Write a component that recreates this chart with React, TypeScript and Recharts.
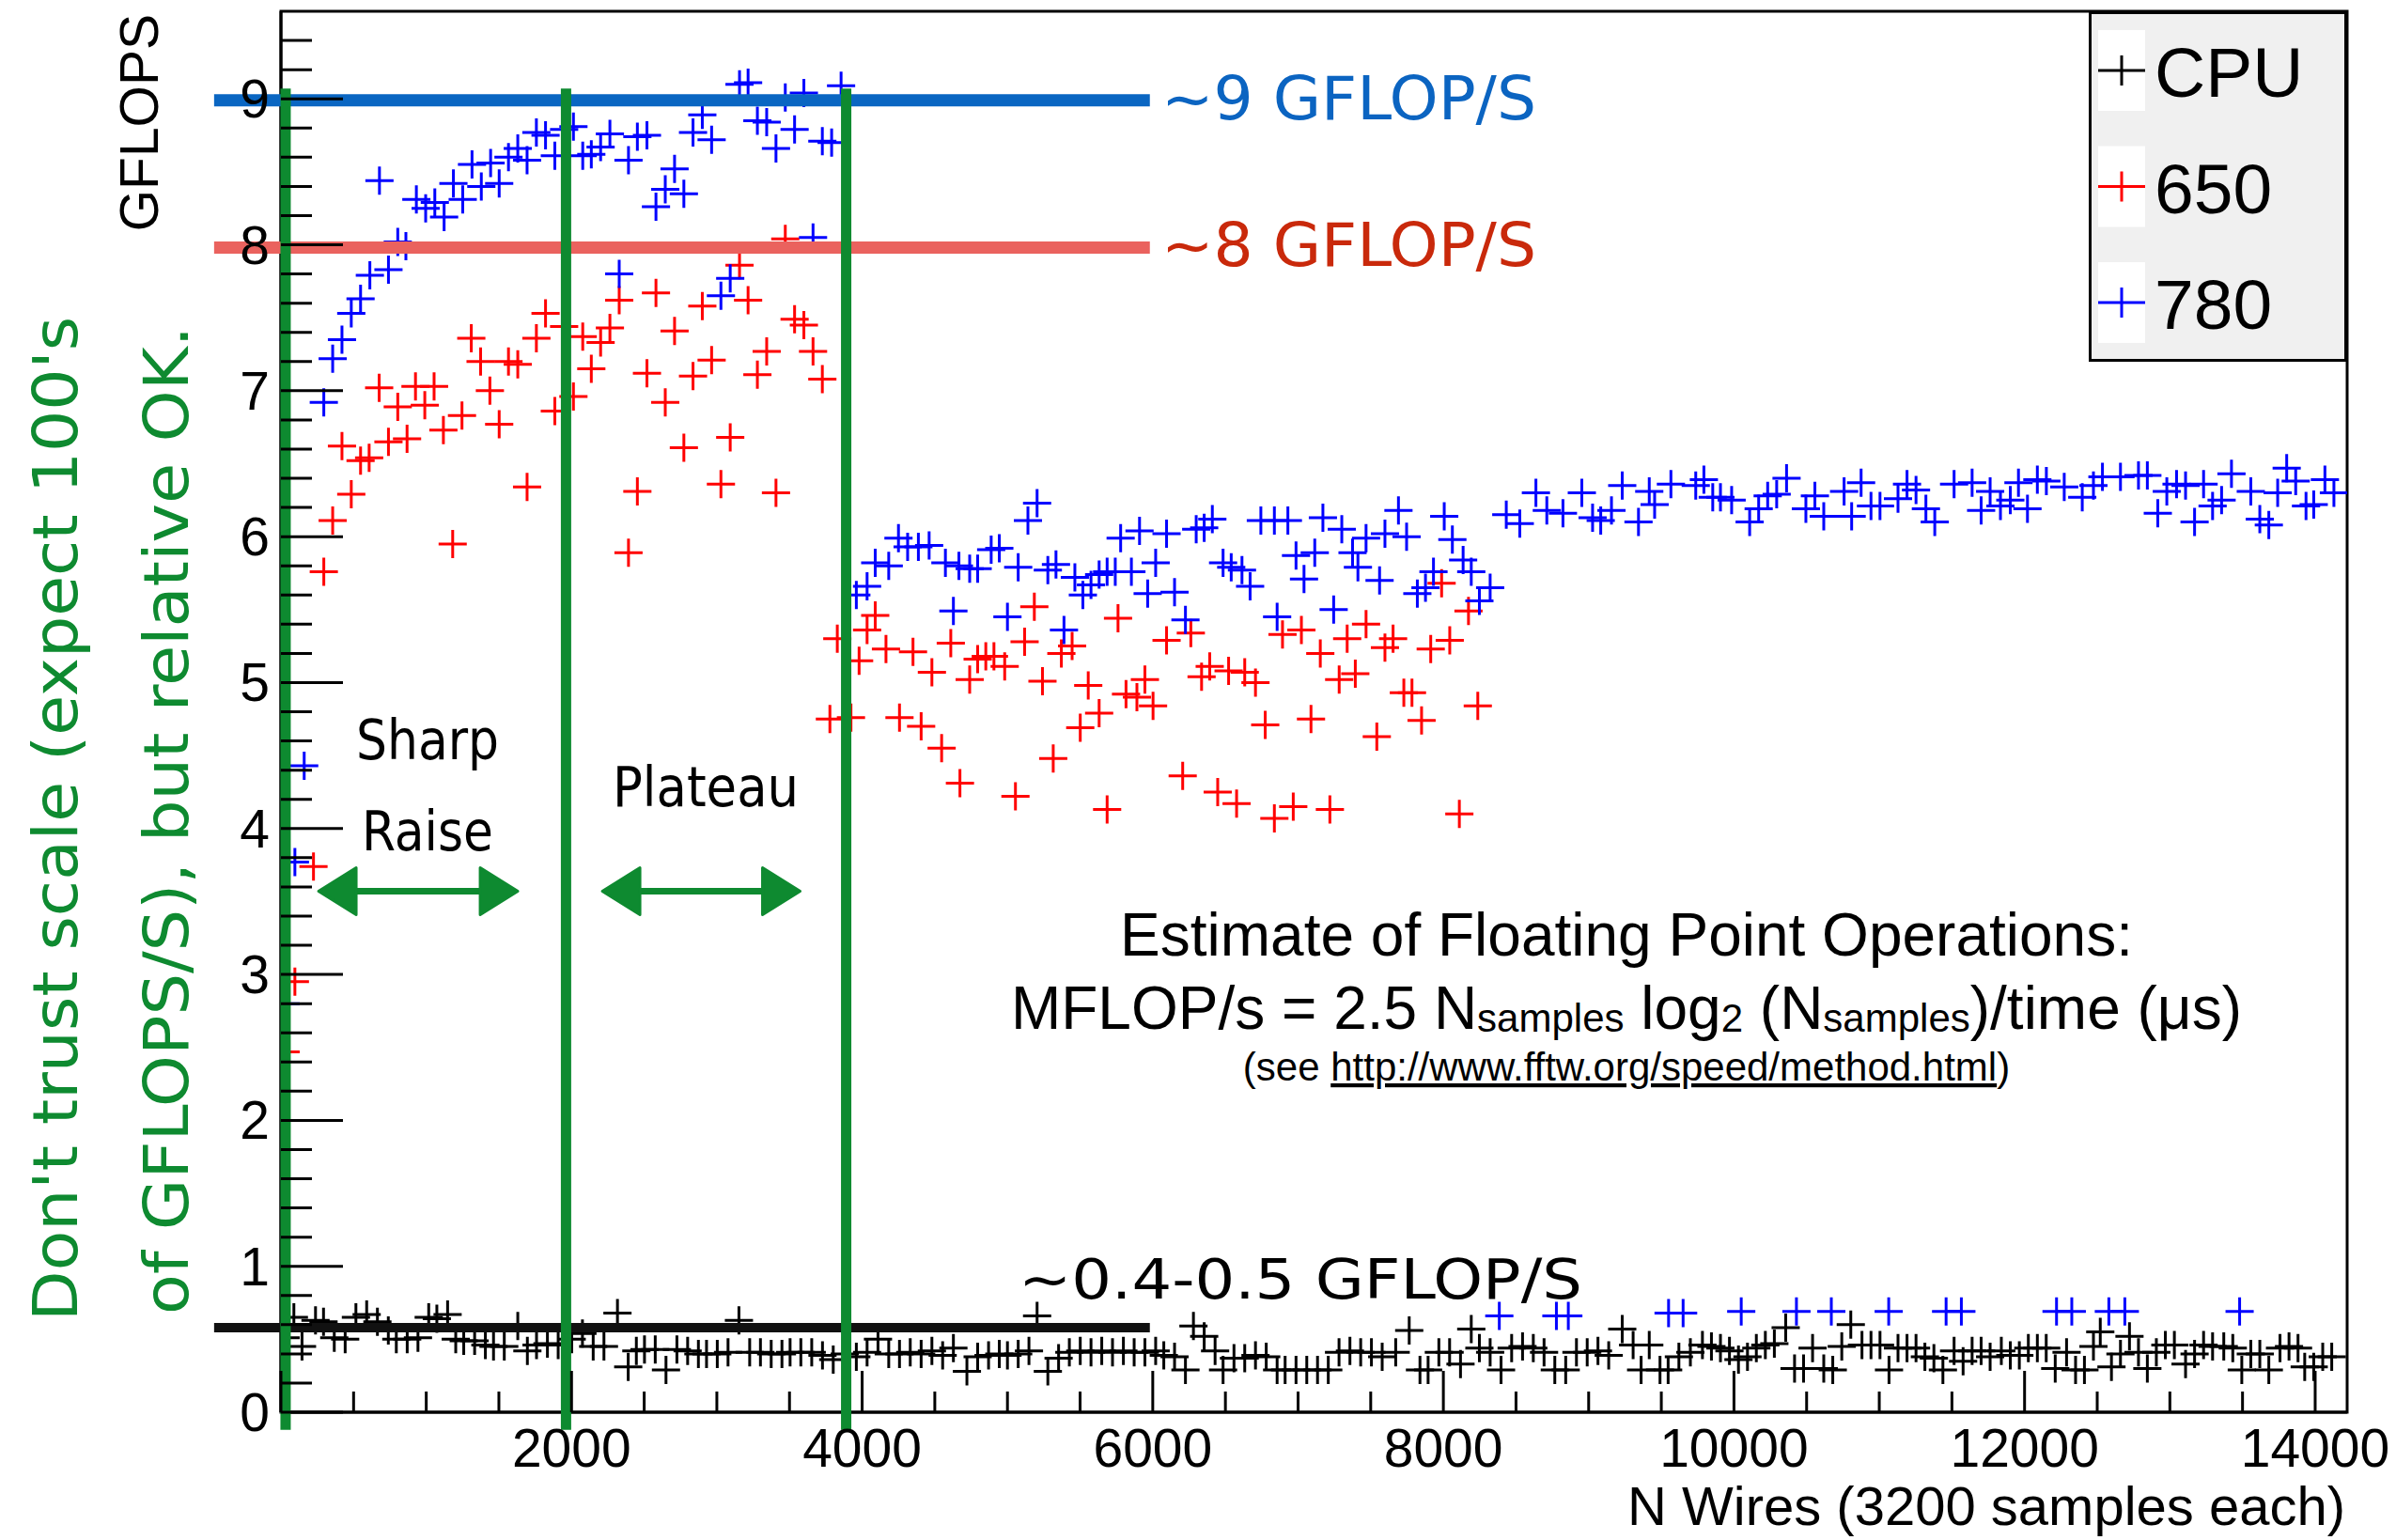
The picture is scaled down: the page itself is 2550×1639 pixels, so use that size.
import React from 'react';
import { ScatterChart, Scatter, XAxis, YAxis, ReferenceLine, ReferenceArea, Legend } from 'recharts';

const SANS = "'Liberation Sans', Arial, Helvetica, sans-serif";
const HAND = "'DejaVu Sans Condensed', 'DejaVu Sans', sans-serif";

// ---------------- data (N wires, GFLOPS) ----------------
const cpuPoints: [number, number][] = [
  [32, 0.51], [89, 0.65], [145, 0.45], [238, 0.63], [293, 0.62], [367, 0.51], [442, 0.50], [516, 0.65], [590, 0.67], [664, 0.62],
  [739, 0.56], [794, 0.50], [869, 0.50], [943, 0.51], [1017, 0.65], [1073, 0.64], [1147, 0.67], [1203, 0.50], [1258, 0.49], [1333, 0.49],
  [1407, 0.46], [1463, 0.45], [1537, 0.45], [1630, 0.59], [1696, 0.42], [1759, 0.46], [1834, 0.47], [1908, 0.46], [2001, 0.50], [2075, 0.54],
  [2149, 0.45], [2223, 0.45], [2316, 0.68], [2390, 0.31], [2446, 0.42], [2502, 0.43], [2576, 0.43], [2650, 0.29], [2725, 0.43], [2799, 0.42],
  [2873, 0.40], [2929, 0.40], [3003, 0.40], [3077, 0.41], [3152, 0.63], [3226, 0.41], [3300, 0.41], [3374, 0.40], [3448, 0.40], [3504, 0.41],
  [3578, 0.41], [3653, 0.41], [3727, 0.39], [3801, 0.36], [3880, 0.40], [3960, 0.38], [4034, 0.41], [4109, 0.50], [4183, 0.40], [4257, 0.40],
  [4331, 0.41], [4406, 0.40], [4480, 0.42], [4554, 0.39], [4628, 0.44], [4721, 0.28], [4795, 0.38], [4870, 0.39], [4944, 0.40], [5000, 0.39],
  [5074, 0.40], [5148, 0.42], [5204, 0.66], [5278, 0.28], [5352, 0.37], [5426, 0.41], [5501, 0.42], [5575, 0.41], [5649, 0.42], [5723, 0.41],
  [5798, 0.42], [5872, 0.41], [5946, 0.41], [6020, 0.42], [6076, 0.39], [6150, 0.38], [6225, 0.29], [6280, 0.59], [6354, 0.52], [6429, 0.42],
  [6484, 0.29], [6559, 0.37], [6633, 0.37], [6707, 0.39], [6781, 0.38], [6856, 0.29], [6911, 0.29], [6986, 0.29], [7060, 0.29], [7134, 0.29],
  [7208, 0.29], [7282, 0.41], [7357, 0.42], [7431, 0.41], [7505, 0.41], [7579, 0.38], [7672, 0.41], [7765, 0.56], [7839, 0.29], [7895, 0.29],
  [7969, 0.41], [8043, 0.41], [8118, 0.33], [8192, 0.57], [8248, 0.44], [8322, 0.41], [8397, 0.29], [8470, 0.44], [8545, 0.45], [8619, 0.44],
  [8693, 0.41], [8767, 0.29], [8842, 0.29], [8916, 0.41], [8990, 0.41], [9064, 0.42], [9138, 0.39], [9231, 0.57], [9306, 0.46], [9361, 0.29],
  [9417, 0.46], [9491, 0.29], [9547, 0.29], [9621, 0.38], [9700, 0.41], [9783, 0.46], [9845, 0.45], [9907, 0.44], [9969, 0.42], [10031, 0.36],
  [10093, 0.38], [10154, 0.44], [10216, 0.46], [10278, 0.47], [10356, 0.58], [10417, 0.30], [10479, 0.30], [10541, 0.44], [10618, 0.30], [10680, 0.29],
  [10742, 0.45], [10804, 0.60], [10881, 0.46], [10943, 0.46], [11005, 0.46], [11067, 0.29], [11129, 0.44], [11191, 0.44], [11253, 0.44], [11314, 0.38],
  [11376, 0.37], [11438, 0.29], [11515, 0.42], [11577, 0.35], [11639, 0.42], [11701, 0.42], [11763, 0.38], [11840, 0.42], [11902, 0.39], [11964, 0.39],
  [12026, 0.44], [12088, 0.44], [12149, 0.44], [12211, 0.30], [12289, 0.41], [12351, 0.29], [12412, 0.29], [12474, 0.45], [12521, 0.55], [12598, 0.31],
  [12660, 0.40], [12722, 0.52], [12784, 0.41], [12845, 0.30], [12907, 0.41], [12969, 0.46], [13031, 0.46], [13108, 0.33], [13170, 0.40], [13232, 0.46],
  [13294, 0.45], [13371, 0.45], [13433, 0.44], [13495, 0.29], [13557, 0.40], [13619, 0.40], [13681, 0.29], [13758, 0.44], [13820, 0.45], [13882, 0.44],
  [13928, 0.31], [13990, 0.31], [14052, 0.38], [14114, 0.38],
];

const gpu650Points: [number, number][] = [
  [32, 2.47], [96, 2.95], [224, 3.74], [295, 5.76], [356, 6.11], [420, 6.62], [484, 6.29], [548, 6.52], [607, 6.54], [676, 7.02],
  [740, 6.65], [804, 6.89], [868, 6.67], [926, 7.03], [990, 6.90], [1054, 7.03], [1118, 6.73], [1182, 5.95], [1246, 6.83], [1310, 7.36],
  [1374, 7.20], [1438, 7.00], [1502, 6.77], [1566, 7.20], [1630, 7.18], [1694, 6.34], [1758, 7.36], [1821, 7.53], [1885, 6.86], [1949, 7.44],
  [2013, 6.96], [2077, 7.37], [2136, 7.15], [2200, 7.33], [2264, 7.43], [2328, 7.62], [2392, 5.89], [2453, 6.31], [2519, 7.12], [2581, 7.67],
  [2645, 6.92], [2709, 7.41], [2773, 6.61], [2836, 7.10], [2900, 7.58], [2964, 7.21], [3028, 6.36], [3092, 6.68], [3156, 7.86], [3215, 7.62],
  [3279, 7.11], [3343, 7.27], [3407, 6.30], [3471, 8.04], [3535, 7.49], [3599, 7.45], [3662, 7.27], [3726, 7.08], [3778, 4.75], [3829, 5.30],
  [3923, 4.76], [3979, 5.15], [4034, 5.36], [4090, 5.46], [4164, 5.23], [4257, 4.76], [4350, 5.21], [4406, 4.70], [4480, 5.07], [4547, 4.55],
  [4610, 5.27], [4673, 4.31], [4740, 5.02], [4795, 5.16], [4851, 5.18], [4907, 5.18], [4981, 5.11], [5055, 4.22], [5118, 5.28], [5185, 5.52],
  [5241, 5.01], [5315, 4.48], [5371, 5.20], [5445, 5.25], [5501, 4.69], [5556, 4.98], [5631, 4.79], [5686, 4.13], [5761, 5.44], [5816, 4.92],
  [5891, 4.90], [5946, 5.02], [6002, 4.84], [6095, 5.29], [6206, 4.36], [6262, 5.34], [6336, 5.04], [6392, 5.11], [6447, 4.25], [6522, 5.08],
  [6577, 4.17], [6633, 5.07], [6707, 5.00], [6774, 4.71], [6837, 4.07], [6893, 5.33], [6967, 4.15], [7023, 5.36], [7089, 4.75], [7153, 5.20],
  [7219, 4.13], [7283, 5.02], [7338, 5.30], [7394, 5.06], [7468, 5.40], [7542, 4.63], [7598, 5.24], [7654, 5.30], [7728, 4.93], [7784, 4.93],
  [7850, 4.74], [7913, 5.23], [7988, 5.68], [8044, 5.29], [8110, 4.10], [8173, 5.49], [8237, 4.84],
];

const gpu780Points: [number, number][] = [
  [32, 2.80], [96, 3.77], [160, 4.43], [295, 6.92], [356, 7.22], [420, 7.35], [484, 7.53], [548, 7.63], [612, 7.79], [678, 8.44],
  [740, 7.83], [804, 8.02], [860, 7.99], [932, 8.31], [996, 8.25], [1059, 8.29], [1123, 8.19], [1187, 8.42], [1251, 8.31], [1315, 8.55],
  [1379, 8.40], [1443, 8.56], [1502, 8.42], [1566, 8.60], [1630, 8.66], [1694, 8.58], [1758, 8.77], [1821, 8.75], [1885, 8.61], [1949, 8.79],
  [2013, 8.81], [2077, 8.61], [2136, 8.62], [2200, 8.67], [2264, 8.76], [2328, 7.80], [2392, 8.58], [2453, 8.74], [2519, 8.75], [2581, 8.26],
  [2645, 8.38], [2709, 8.52], [2773, 8.35], [2836, 8.77], [2900, 8.89], [2964, 8.72], [3028, 7.65], [3092, 7.77], [3156, 9.10], [3215, 9.11],
  [3279, 8.85], [3343, 8.84], [3407, 8.66], [3471, 9.01], [3535, 8.79], [3599, 9.04], [3662, 8.05], [3726, 8.71], [3790, 8.70], [3855, 9.09],
  [3960, 5.60], [4034, 5.66], [4090, 5.82], [4183, 5.80], [4250, 5.99], [4313, 5.93], [4387, 5.93], [4461, 5.94], [4573, 5.82], [4628, 5.49],
  [4666, 5.80], [4740, 5.78], [4795, 5.78], [4888, 5.91], [4944, 5.92], [5000, 5.45], [5074, 5.79], [5141, 6.11], [5204, 6.23], [5278, 5.77],
  [5334, 5.81], [5389, 5.36], [5464, 5.72], [5519, 5.60], [5575, 5.67], [5631, 5.74], [5686, 5.76], [5742, 5.76], [5779, 5.99], [5853, 5.76],
  [5909, 6.04], [5965, 5.61], [6020, 5.82], [6095, 6.02], [6150, 5.62], [6225, 5.43], [6299, 6.05], [6354, 6.06], [6410, 6.12], [6484, 5.82],
  [6540, 5.79], [6614, 5.77], [6670, 5.66], [6744, 6.11], [6837, 6.11], [6856, 5.45], [6930, 6.11], [6986, 5.87], [7041, 5.71], [7115, 5.89],
  [7171, 6.13], [7245, 5.50], [7301, 6.05], [7375, 5.89], [7412, 5.79], [7468, 5.99], [7561, 5.70], [7598, 6.02], [7691, 6.18], [7747, 6.00],
  [7821, 5.61], [7877, 5.65], [7932, 5.76], [8006, 6.14], [8062, 5.98], [8136, 5.84], [8192, 5.76], [8248, 5.56], [8322, 5.65], [8433, 6.15],
  [8526, 6.09], [8637, 6.30], [8712, 6.18], [8823, 6.16], [8953, 6.30], [9027, 6.13], [9083, 6.11], [9157, 6.18], [9231, 6.35], [9343, 6.10],
  [9417, 6.31], [9454, 6.22], [9566, 6.36], [9737, 6.35], [9793, 6.39], [9854, 6.27], [9907, 6.27], [9984, 6.25], [10108, 6.10], [10170, 6.19],
  [10232, 6.28], [10294, 6.29], [10362, 6.40], [10495, 6.19], [10557, 6.28], [10618, 6.14], [10758, 6.31], [10810, 6.14], [10875, 6.37], [10943, 6.21],
  [11005, 6.21], [11129, 6.26], [11191, 6.36], [11253, 6.32], [11321, 6.19], [11382, 6.10], [11515, 6.36], [11639, 6.37], [11701, 6.18], [11763, 6.31],
  [11834, 6.21], [11902, 6.25], [11958, 6.37], [12020, 6.19], [12088, 6.39], [12150, 6.38], [12273, 6.34], [12397, 6.27], [12474, 6.35], [12536, 6.41],
  [12660, 6.41], [12784, 6.42], [12845, 6.42], [12917, 6.16], [12979, 6.31], [13046, 6.36], [13108, 6.35], [13170, 6.10], [13232, 6.36], [13294, 6.21],
  [13356, 6.25], [13424, 6.43], [13557, 6.31], [13619, 6.12], [13681, 6.08], [13742, 6.30], [13804, 6.47], [13866, 6.38], [13937, 6.21], [13990, 6.22],
  [14067, 6.39], [14129, 6.30],
  [8385, 0.66], [8778, 0.66], [8860, 0.66], [9550, 0.68], [9650, 0.68], [10050, 0.69], [10430, 0.69], [10670, 0.69], [11065, 0.69], [11460, 0.69],
  [11565, 0.69], [12220, 0.69], [12325, 0.69], [12580, 0.69], [12690, 0.69], [13480, 0.69],
];

const seriesNames = ['CPU', '650', '780'];
const seriesColors = ['#000000', '#ff0000', '#0000ff'];
const seriesPoints = [cpuPoints, gpu650Points, gpu780Points];

// axes
const xDomain: [number, number] = [0, 14220];
const yDomain: [number, number] = [0, 9.6];
const xTicks = [0, 500, 1000, 1500, 2000, 2500, 3000, 3500, 4000, 4500, 5000, 5500, 6000, 6500, 7000, 7500, 8000, 8500, 9000, 9500, 10000, 10500, 11000, 11500, 12000, 12500, 13000, 13500, 14000];
const xLabelValues = [2000, 4000, 6000, 8000, 10000, 12000, 14000];
const yTicks = [0, 0.2, 0.4, 0.6, 0.8, 1, 1.2, 1.4, 1.6, 1.8, 2, 2.2, 2.4, 2.6, 2.8, 3, 3.2, 3.4, 3.6, 3.8, 4, 4.2, 4.4, 4.6, 4.8, 5, 5.2, 5.4, 5.6, 5.8, 6, 6.2, 6.4, 6.6, 6.8, 7, 7.2, 7.4, 7.6, 7.8, 8, 8.2, 8.4, 8.6, 8.8, 9, 9.2, 9.4];
const yLabelValues = [0, 1, 2, 3, 4, 5, 6, 7, 8, 9];

// hand-drawn annotations (data units)
const fitLevels = [8.99, 7.98, 0.58];
const fitColors = ['#0a66c2', '#ea625e', '#111111'];
const fitSpan = [-460, 5980];
const regionEdges = [32, 1962, 3890];
const regionSpan = [-0.12, 9.07];
const arrowSpans = [[259, 1630], [2212, 3573]];
const arrowLevel = 3.57;

const GREEN = '#0e8a30';

const makeCross = (color: string) => (props: any) => {
  const { cx, cy } = props;
  if (cx == null || cy == null || isNaN(cx) || isNaN(cy)) return <g />;
  return (
    <path d={`M${cx - 15},${cy}H${cx + 15}M${cx},${cy - 15}V${cy + 15}`} stroke={color} strokeWidth={3} fill="none" />
  );
};

const XTick = (props: any) => {
  const { x, y, payload } = props;
  const v = payload.value;
  const major = v % 2000 === 0;
  return (
    <g>
      <line x1={x} y1={y} x2={x} y2={y - (major ? 44 : 22)} stroke="#000" strokeWidth={3} />
      {xLabelValues.includes(v) && (
        <text x={x} y={y + 58} textAnchor="middle" fontSize={57} fontFamily={SANS} fill="#000">{v}</text>
      )}
    </g>
  );
};

const YTick = (props: any) => {
  const { x, y, payload } = props;
  const v = payload.value;
  const lbl = yLabelValues.find((l) => Math.abs(l - v) < 1e-6);
  const major = lbl !== undefined;
  return (
    <g>
      <line x1={x} y1={y} x2={x + (major ? 66 : 33)} y2={y} stroke="#000" strokeWidth={3} />
      {major && (
        <text x={x - 12} y={y + 20} textAnchor="end" fontSize={57} fontFamily={SANS} fill="#000">{lbl}</text>
      )}
    </g>
  );
};

const ArrowShape = (props: any) => {
  const { x1, y1, x2, y2 } = props;
  const head = 40;
  const half = 25;
  return (
    <g>
      <line x1={x1 + head - 4} y1={y1} x2={x2 - head + 4} y2={y2} stroke={GREEN} strokeWidth={7} strokeLinecap="round" />
      <polygon points={`${x1},${y1} ${x1 + head},${y1 - half} ${x1 + head},${y1 + half}`} fill={GREEN} stroke={GREEN} strokeWidth={3} strokeLinejoin="round" />
      <polygon points={`${x2},${y2} ${x2 - head},${y2 - half} ${x2 - head},${y2 + half}`} fill={GREEN} stroke={GREEN} strokeWidth={3} strokeLinejoin="round" />
    </g>
  );
};

const renderLegend = () => (
  <svg width={275} height={373} style={{ display: 'block' }}>
    <rect x={1.5} y={1.5} width={272} height={370} fill="#f0f0f0" stroke="#000" strokeWidth={3} />
    {seriesNames.map((name, i) => {
      const top = 20 + i * 123.5;
      const cy = top + 43;
      return (
        <g key={name}>
          <rect x={10} y={top} width={50} height={86} fill="#ffffff" />
          <path d={`M10,${cy}H60M35,${cy - 16}V${cy + 16}`} stroke={seriesColors[i]} strokeWidth={3} fill="none" />
          <text x={70} y={top + 71} fontSize={75} fontFamily={SANS} fill="#000">{name}</text>
        </g>
      );
    })}
  </svg>
);

export default function App() {
  const data = seriesPoints.map((pts) => pts.map(([x, y]) => ({ x, y })));
  return (
    <div style={{ position: 'absolute', left: 0, top: 0, width: 2550, height: 1639, background: '#ffffff', overflow: 'hidden' }}>
      <ScatterChart width={2550} height={1639} margin={{ top: 12, right: 52, bottom: 0, left: 0 }}>
        <XAxis
          type="number"
          dataKey="x"
          domain={xDomain}
          ticks={xTicks}
          interval={0}
          height={136}
          tickSize={0}
          tickMargin={0}
          tickLine={false}
          axisLine={{ stroke: '#000', strokeWidth: 3 }}
          tick={<XTick />}
          allowDataOverflow
        />
        <YAxis
          type="number"
          dataKey="y"
          domain={yDomain}
          ticks={yTicks}
          interval={0}
          width={299}
          tickSize={0}
          tickMargin={0}
          tickLine={false}
          axisLine={{ stroke: '#000', strokeWidth: 3 }}
          tick={<YTick />}
          allowDataOverflow
        />
        {seriesNames.map((name, i) => (
          <Scatter
            key={name}
            name={name}
            data={data[i]}
            fill={seriesColors[i]}
            shape={makeCross(seriesColors[i])}
            isAnimationActive={false}
          />
        ))}
        {fitLevels.map((lv, i) => (
          <ReferenceLine
            key={`fit-${i}`}
            segment={[{ x: fitSpan[0], y: lv }, { x: fitSpan[1], y: lv }]}
            stroke={fitColors[i]}
            strokeWidth={i === 2 ? 10 : 13}
            ifOverflow="visible"
            zIndex={700}
          />
        ))}
        {regionEdges.map((xv, i) => (
          <ReferenceLine
            key={`edge-${i}`}
            segment={[{ x: xv, y: regionSpan[0] }, { x: xv, y: regionSpan[1] }]}
            stroke={GREEN}
            strokeWidth={11}
            ifOverflow="visible"
            zIndex={710}
          />
        ))}
        {arrowSpans.map((sp, i) => (
          <ReferenceLine
            key={`arrow-${i}`}
            segment={[{ x: sp[0], y: arrowLevel }, { x: sp[1], y: arrowLevel }]}
            stroke={GREEN}
            ifOverflow="visible"
            shape={ArrowShape}
            zIndex={710}
          />
        ))}
        <ReferenceArea
          x1={xDomain[0]}
          x2={xDomain[1]}
          y1={yDomain[0]}
          y2={yDomain[1]}
          fill="none"
          fillOpacity={0}
          stroke="#000"
          strokeWidth={3}
          ifOverflow="visible"
        />
        <Legend
          layout="vertical"
          align="center"
          verticalAlign="middle"
          content={renderLegend}
          wrapperStyle={{ left: 2223, top: 12, width: 275, height: 373, margin: 0, padding: 0 }}
        />
      </ScatterChart>
      <svg width={2550} height={1639} style={{ position: 'absolute', left: 0, top: 0, pointerEvents: 'none' }}>
        {/* axis titles */}
        <text transform="translate(168,15) rotate(-90)" textAnchor="end" fontSize={57} fontFamily={SANS} fill="#000">GFLOPS</text>
        <text x={2496} y={1623} textAnchor="end" fontSize={58} fontFamily={SANS} fill="#000">N Wires (3200 samples each)</text>

        {/* formula note */}
        <text x={1731} y={1017} textAnchor="middle" fontSize={64} fontFamily={SANS} fill="#000">Estimate of Floating Point Operations:</text>
        <text x={1731} y={1095} textAnchor="middle" fontSize={64} fontFamily={SANS} fill="#000">
          MFLOP/s = 2.5 N<tspan fontSize={42} dy={3}>samples</tspan>
          <tspan dy={-3}> log</tspan>
          <tspan fontSize={42} dy={3}>2</tspan>
          <tspan dy={-3}> (N</tspan>
          <tspan fontSize={42} dy={3}>samples</tspan>
          <tspan dy={-3}>)/time (μs)</tspan>
        </text>
        <text x={1731} y={1150} textAnchor="middle" fontSize={42} fontFamily={SANS} fill="#000">
          (see <tspan style={{ textDecoration: 'underline' }}>http://www.fftw.org/speed/method.html</tspan>)
        </text>

        {/* hand-written notes */}
        <text x={1236} y={127} fontSize={64} fontFamily={HAND} fill="#0b64c1" textLength={399} lengthAdjust="spacingAndGlyphs">~9 GFLOP/S</text>
        <text x={1236} y={283} fontSize={64} fontFamily={HAND} fill="#c9290b" textLength={399} lengthAdjust="spacingAndGlyphs">~8 GFLOP/S</text>
        <text x={1084} y={1382} fontSize={58} fontFamily={HAND} fill="#000" textLength={600} lengthAdjust="spacingAndGlyphs">~0.4-0.5 GFLOP/S</text>
        <text x={379} y={808} fontSize={58} fontFamily={HAND} fill="#000" textLength={152} lengthAdjust="spacingAndGlyphs">Sharp</text>
        <text x={385} y={905} fontSize={58} fontFamily={HAND} fill="#000" textLength={140} lengthAdjust="spacingAndGlyphs">Raise</text>
        <text x={652} y={858} fontSize={58} fontFamily={HAND} fill="#000" textLength={198} lengthAdjust="spacingAndGlyphs">Plateau</text>
        <text transform="translate(82,1406) rotate(-90)" fontSize={66} fontFamily={HAND} fill={GREEN} textLength={1069} lengthAdjust="spacingAndGlyphs">Don't trust scale (expect 100's</text>
        <text transform="translate(200,1399) rotate(-90)" fontSize={66} fontFamily={HAND} fill={GREEN} textLength={1052} lengthAdjust="spacingAndGlyphs">of GFLOPS/S), but relative OK.</text>
      </svg>
    </div>
  );
}
